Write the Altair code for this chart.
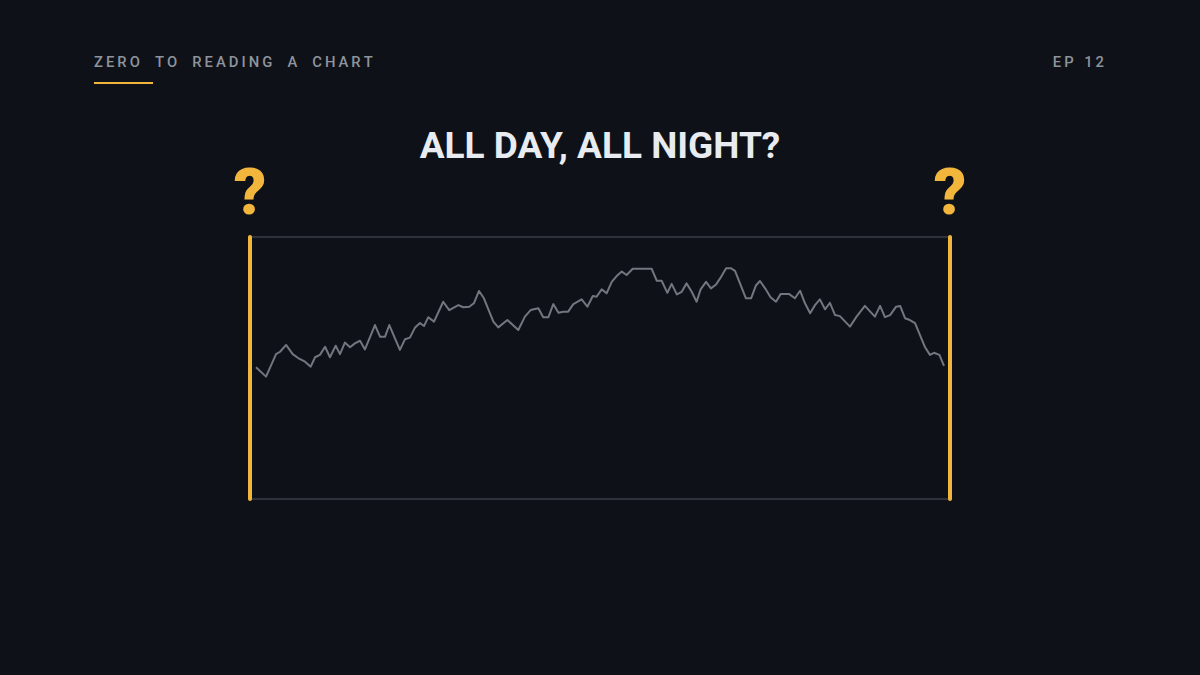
import altair as alt
import pandas as pd

# Hour of day (0-24) and activity level (0-100)
hours = [0.00, 0.35, 0.70, 0.84, 1.05, 1.28, 1.47, 1.71, 1.91, 2.06, 2.23, 2.41, 2.58, 2.78, 2.93,
         3.10, 3.28, 3.45, 3.63, 3.80, 4.15, 4.33, 4.50, 4.65, 5.02, 5.20, 5.37, 5.55, 5.72, 5.86,
         6.01, 6.21, 6.53, 6.74, 7.06, 7.23, 7.44, 7.60, 7.78, 7.95, 8.28, 8.45, 8.77, 9.15, 9.38,
         9.58, 9.85, 10.02, 10.20, 10.37, 10.55, 10.72, 10.89, 11.07, 11.36, 11.56, 11.75, 11.88,
         12.06, 12.23, 12.41, 12.58, 12.76, 12.93, 13.14, 13.80, 13.98, 14.15, 14.35, 14.50, 14.68,
         14.85, 15.02, 15.20, 15.37, 15.51, 15.70, 15.87, 16.05, 16.19, 16.40, 16.56, 16.71, 17.09,
         17.27, 17.44, 17.58, 17.76, 17.95, 18.14, 18.30, 18.60, 18.80, 18.98, 19.15, 19.33, 19.50,
         19.67, 19.85, 20.02, 20.20, 20.37, 20.72, 20.95, 21.24, 21.59, 21.77, 21.94, 22.12, 22.33,
         22.47, 22.64, 22.81, 22.99, 23.34, 23.51, 23.65, 23.84, 24.00]
activity = [50.3, 46.7, 55.3, 56.2, 58.8, 55.3, 53.8, 52.4, 50.5, 54.1, 55.0, 58.1, 54.1, 58.5, 55.3,
            59.7, 57.9, 59.4, 60.4, 57.1, 66.4, 61.9, 61.9, 66.4, 56.9, 61.0, 61.6, 65.5, 67.2, 66.0,
            69.4, 67.7, 75.3, 72.1, 74.0, 73.2, 73.4, 74.7, 79.4, 76.6, 67.7, 65.5, 68.3, 64.5, 69.6,
            72.1, 72.8, 69.4, 69.4, 74.4, 71.1, 71.5, 71.5, 74.4, 76.2, 73.4, 77.5, 77.2,
            80.0, 78.5, 82.9, 85.1, 86.8, 85.5, 87.9, 87.9, 83.3, 83.3, 78.7, 82.1, 78.1,
            79.1, 82.3, 79.1, 75.3, 80.0, 82.9, 80.4, 81.9, 84.2, 88.1, 88.1, 87.1, 76.6,
            76.6, 81.5, 83.2, 80.4, 77.0, 75.3, 78.2, 78.2, 76.6, 79.5, 74.7, 70.9, 74.0,
            76.2, 72.4, 74.9, 70.2, 69.8, 65.8, 69.6, 73.7, 69.6, 73.7, 69.4, 70.2, 73.4,
            73.7, 69.0, 68.3, 67.1, 57.9, 55.0, 55.8, 55.0, 50.8]

kicker = "Z\u2009E\u2009R\u2009O\u2003T\u2009O\u2003R\u2009E\u2009A\u2009D\u2009I\u2009N\u2009G\u2003A\u2003C\u2009H\u2009A\u2009R\u2009T"
episode = "E\u2009P\u2002\u20091\u20092"
title = "ALL DAY, ALL NIGHT?"
mark_q = "?"

BG = "#0e1117"
YELLOW = "#f2b63c"
GRAY_TXT = "#8e949d"
FRAME = "#50555e"
LINE = "#72777f"

W, H = 1184, 659
one = alt.Data(values=[{"a": 1}])

df = pd.DataFrame({"hour": hours, "activity": activity})

line = alt.Chart(df).mark_line(color=LINE, strokeWidth=2, strokeJoin="round").encode(
    x=alt.X("hour:Q", scale=alt.Scale(domain=[0, 24], range=[248, 936], nice=False, zero=False), axis=None),
    y=alt.Y("activity:Q", scale=alt.Scale(domain=[0, 100], range=[491, 229], nice=False), axis=None),
)

top = alt.Chart(one).mark_rule(color=FRAME, strokeWidth=1).encode(
    x=alt.value(242), x2=alt.value(942), y=alt.value(229))
bottom = alt.Chart(one).mark_rule(color=FRAME, strokeWidth=1).encode(
    x=alt.value(242), x2=alt.value(942), y=alt.value(491))
left_bar = alt.Chart(one).mark_rule(color=YELLOW, strokeWidth=4, strokeCap="round").encode(
    x=alt.value(242), y=alt.value(229), y2=alt.value(491))
right_bar = alt.Chart(one).mark_rule(color=YELLOW, strokeWidth=4, strokeCap="round").encode(
    x=alt.value(942), y=alt.value(229), y2=alt.value(491))
underline = alt.Chart(one).mark_rule(color=YELLOW, strokeWidth=2).encode(
    x=alt.value(86), x2=alt.value(145), y=alt.value(75))

kick = alt.Chart(one).mark_text(text=kicker, font="Roboto", fontSize=14.8, fontWeight=500,
                                color=GRAY_TXT, align="left", baseline="alphabetic").encode(
    x=alt.value(86), y=alt.value(59))
ep = alt.Chart(one).mark_text(text=episode, font="Roboto", fontSize=14.8, fontWeight=500,
                              color=GRAY_TXT, align="right", baseline="alphabetic").encode(
    x=alt.value(1096), y=alt.value(59))
ttl = alt.Chart(one).mark_text(text=title, font="Roboto", fontSize=37, fontWeight="bold",
                               color="#e8ebf0", align="center", baseline="alphabetic").encode(
    x=alt.value(592), y=alt.value(150))
q1 = alt.Chart(one).mark_text(text=mark_q, font="Roboto", fontSize=64, fontWeight=900,
                              color=YELLOW, align="center", baseline="alphabetic").encode(
    x=alt.value(242), y=alt.value(206))
q2 = alt.Chart(one).mark_text(text=mark_q, font="Roboto", fontSize=64, fontWeight=900,
                              color=YELLOW, align="center", baseline="alphabetic").encode(
    x=alt.value(942), y=alt.value(206))

chart = alt.layer(top, bottom, line, left_bar, right_bar, underline, kick, ep, ttl, q1, q2).properties(
    width=W, height=H, autosize=alt.AutoSizeParams(type="none"), padding=0
).configure(background=BG).configure_view(stroke=None)

chart.save("out.html", embed_options={"renderer": "svg", "actions": False,
                                      "defaultStyle": "body{background:#0e1117;}"})
